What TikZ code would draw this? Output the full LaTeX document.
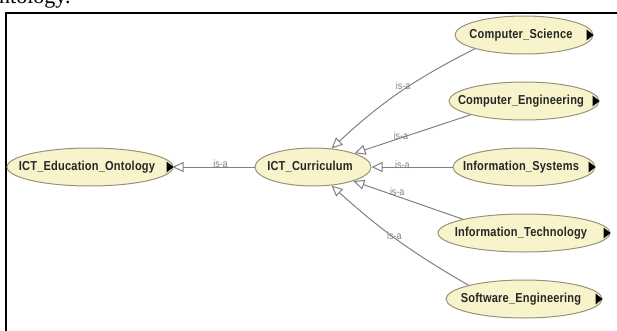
\documentclass[tikz,border=0pt]{standalone}
\usepackage{fontspec}
\newfontfamily\clsfont{Liberation Sans}[FakeStretch=0.85, LetterSpace=1.5]
\newfontfamily\lblfont{Liberation Sans}[FakeStretch=0.85]
\newfontfamily\pagefont{Liberation Serif}
\usepackage{xcolor}
\usetikzlibrary{positioning,shapes.geometric,arrows.meta}
\definecolor{cream}{RGB}{248,243,203}
\definecolor{rim}{RGB}{150,148,120}
\definecolor{link}{RGB}{128,128,128}

\begin{document}
\begin{tikzpicture}[
    x=1pt, y=1pt,
    node distance=66pt,
    cls/.style={ellipse, draw=rim, line width=1pt, fill=cream, minimum height=38pt, inner xsep=-40pt, inner ysep=0pt, font=\fontsize{13}{14}\selectfont\clsfont\bfseries, text=black!85, execute at end node=\hspace*{6pt}},
    isa/.style={draw=link, line width=1pt, -{Triangle[open, length=11pt, width=10pt]}},
    lbl/.style={text=link, font=\fontsize{10.5}{10.5}\selectfont\lblfont, inner sep=1pt}
]
\useasboundingbox (0,0) rectangle (617,-331);

\node[font=\fontsize{22}{22}\selectfont\pagefont, anchor=base west, inner sep=0pt] (cap) at (-1,-3.5) {ntology.};
\draw[line width=2pt] (6,-340) -- (6,-13) -- (630,-13);

\node[cls, minimum width=116pt, execute at end node={}] (cur) at (313,-167) {ICT\_Curriculum};
\node[cls, minimum width=166pt, left of=cur, node distance=223pt] (edu) {ICT\_Education\_Ontology};
\node[cls, minimum width=142pt, right of=cur, node distance=211pt] (is) {Information\_Systems};
\node[cls, minimum width=150pt, above of=is] (ce) {Computer\_Engineering};
\node[cls, minimum width=138pt, above of=ce] (cs) {Computer\_Science};
\node[cls, minimum width=172pt, below of=is] (it) {Information\_Technology};
\node[cls, minimum width=156pt, below of=it] (se) {Software\_Engineering};

\foreach \n in {edu,cs,ce,is,it,se}
  \fill ([xshift=-7pt,yshift=5.5pt]\n.east) -- ([xshift=0pt]\n.east) -- ([xshift=-7pt,yshift=-5.5pt]\n.east) -- cycle;

\draw[isa, shorten >=-1pt] (cur) -- node[lbl, pos=0.42, above=-2pt] {is-a} (edu);
\draw[isa] (cs.south west) to[bend right=8] node[lbl, pos=0.47, above=-1pt] {is-a} (cur.45);
\draw[isa] (ce.south west) -- node[lbl, pos=0.6, above=-3pt] {is-a} (cur);
\draw[isa] (is) -- node[lbl, pos=0.62, above=-3pt] {is-a} (cur);
\draw[isa] (it.north west) -- node[lbl, pos=0.6, above=-1pt] {is-a} (cur);
\draw[isa] (se.north west) to[bend left=6] node[lbl, pos=0.52, above=-3pt] {is-a} (cur.-45);

\end{tikzpicture}
\end{document}
